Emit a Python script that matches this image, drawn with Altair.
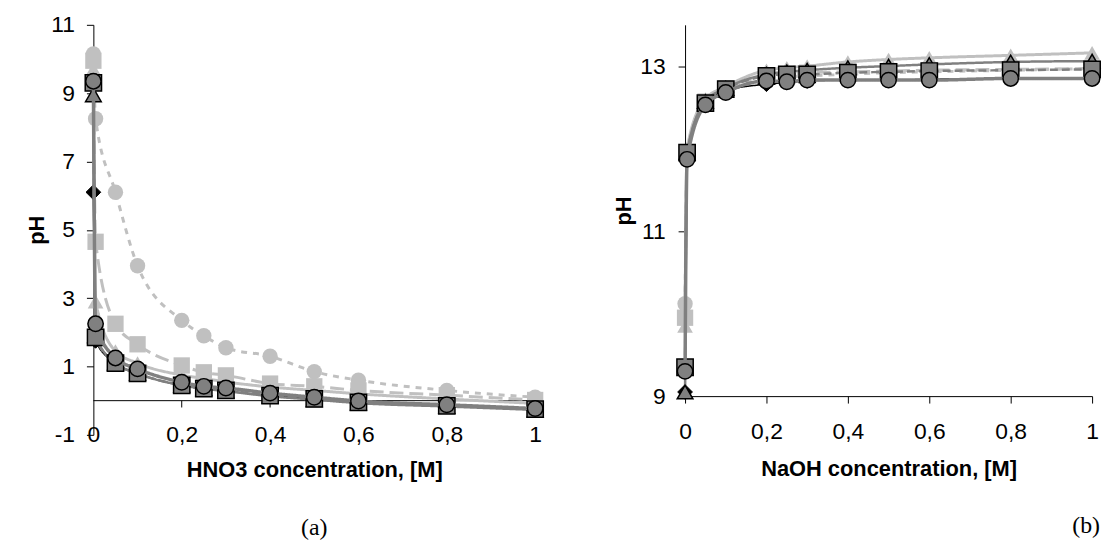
import altair as alt
import pandas as pd

# ---------------- data ----------------
x_vals = [0, 0.005, 0.05, 0.1, 0.2, 0.25, 0.3, 0.4, 0.5, 0.6, 0.8, 1.0]
series = ["S1", "S2", "S3", "S4", "S5", "S6", "S7"]

# (a) HNO3
a_S1 = [6.1, 1.75, 1.1, 0.8, 0.45, 0.35, 0.28, 0.15, 0.05, -0.05, -0.15, -0.25]
a_S2 = [9.3, 1.85, 1.1, 0.8, 0.45, 0.35, 0.3, 0.15, 0.05, -0.05, -0.15, -0.25]
a_S3 = [8.95, 1.9, 1.1, 0.8, 0.45, 0.35, 0.28, 0.13, 0.03, -0.07, -0.17, -0.27]
a_S4 = [10.15, 8.25, 6.1, 3.95, 2.35, 1.9, 1.55, 1.3, 0.85, 0.6, 0.3, 0.1]
a_S5 = [9.95, 4.65, 2.25, 1.65, 1.03, 0.83, 0.74, 0.5, 0.42, 0.3, 0.16, 0.02]
a_S6 = [9.7, 2.9, 1.45, 1.1, 0.75, 0.65, 0.55, 0.4, 0.3, 0.2, 0.05, -0.08]
a_S7 = [9.35, 2.25, 1.25, 0.93, 0.54, 0.42, 0.37, 0.22, 0.1, -0.01, -0.12, -0.23]

# (b) NaOH
b_S1 = [9.05, 11.9, 12.55, 12.7, 12.78, 12.8, 12.82, 12.83, 12.83, 12.84, 12.85, 12.86]
b_S2 = [9.35, 11.95, 12.55, 12.72, 12.88, 12.9, 12.9, 12.92, 12.93, 12.94, 12.95, 12.96]
b_S3 = [9.05, 11.95, 12.57, 12.73, 12.9, 12.93, 12.95, 12.98, 13.0, 13.02, 13.05, 13.06]
b_S4 = [10.12, 11.9, 12.55, 12.72, 12.85, 12.87, 12.88, 12.9, 12.92, 12.93, 12.95, 12.97]
b_S5 = [9.95, 11.95, 12.57, 12.73, 12.88, 12.9, 12.92, 12.93, 12.94, 12.95, 12.96, 12.97]
b_S6 = [9.85, 12.0, 12.6, 12.75, 12.95, 12.98, 13.0, 13.05, 13.08, 13.1, 13.13, 13.16]
b_S7 = [9.3, 11.87, 12.53, 12.68, 12.82, 12.81, 12.83, 12.83, 12.83, 12.83, 12.85, 12.85]

a_data = dict(S1=a_S1, S2=a_S2, S3=a_S3, S4=a_S4, S5=a_S5, S6=a_S6, S7=a_S7)
b_data = dict(S1=b_S1, S2=b_S2, S3=b_S3, S4=b_S4, S5=b_S5, S6=b_S6, S7=b_S7)

a_yticks = [-1, 1, 3, 5, 7, 9, 11]
b_yticks = [9, 11, 13]
x_ticks = [0, 0.2, 0.4, 0.6, 0.8, 1.0]
a_xtitle = "HNO3 concentration, [M]"
b_xtitle = "NaOH concentration, [M]"
y_title = "pH"

# ---------------- styles ----------------
DARK = "#808080"
LIGHT = "#C0C0C0"
style = {
    "S1": dict(lc="black", lw=1.5, dash=[1, 0], shape="diamond", fill="black", stroke="black", sw=1, size=220),
    "S2": dict(lc=DARK, lw=2.5, dash=[8, 4], shape="square", fill=DARK, stroke="black", sw=1.5, size=270),
    "S3": dict(lc=DARK, lw=2.5, dash=[1, 0], shape="triangle-up", fill=DARK, stroke="black", sw=1.5, size=250),
    "S4": dict(lc=LIGHT, lw=3, dash=[6, 6], shape="circle", fill=LIGHT, stroke=LIGHT, sw=0, size=240),
    "S5": dict(lc=LIGHT, lw=3, dash=[14, 6], shape="square", fill=LIGHT, stroke=LIGHT, sw=0, size=270),
    "S6": dict(lc=LIGHT, lw=3, dash=[1, 0], shape="triangle-up", fill=LIGHT, stroke=LIGHT, sw=0, size=250),
    "S7": dict(lc=DARK, lw=3.5, dash=[1, 0], shape="circle", fill=DARK, stroke="black", sw=1.5, size=240),
}
draw_order = ["S4", "S5", "S6", "S1", "S3", "S2", "S7"]

FONT = "Liberation Sans"
SERIF = "Liberation Serif"
LBL = 23
TTL = 22


def panel(data, xscale, yscale, xaxis, yaxis, extra=None):
    layers = list(extra or [])
    for s in draw_order:
        st = style[s]
        df = pd.DataFrame({"x": x_vals, "pH": data[s]})
        base = alt.Chart(df)
        line = base.mark_line(
            color=st["lc"], strokeWidth=st["lw"], strokeDash=st["dash"], interpolate="monotone"
        ).encode(
            x=alt.X("x:Q", scale=xscale, axis=xaxis),
            y=alt.Y("pH:Q", scale=yscale, axis=yaxis),
        )
        pts = base.mark_point(
            filled=True, shape=st["shape"], size=st["size"], fill=st["fill"],
            stroke=st["stroke"], strokeWidth=st["sw"], opacity=1,
        ).encode(x=alt.X("x:Q", scale=xscale), y=alt.Y("pH:Q", scale=yscale))
        layers += [line, pts]
    return alt.layer(*layers)


x_label_expr = "datum.value == 0 ? '0' : datum.value == 1 ? '1' : replace(format(datum.value, '.1f'), '.', ',')"
y_label_expr = "datum.value < 0 ? '-' + abs(datum.value) : '' + datum.value"

# ----- panel (a) -----
a_xscale = alt.Scale(domain=[0, 1], nice=False, zero=False)
a_yscale = alt.Scale(domain=[-1, 11], nice=False, zero=False)
a_xaxis = alt.Axis(
    values=x_ticks, labelExpr=x_label_expr, domain=False, ticks=False, grid=False,
    labelBaseline="middle", labelPadding=0, labelFlush=False, labelOverlap=False,
    labelFont=FONT, labelFontSize=LBL, labelColor="black",
    title=a_xtitle, titleFont=FONT, titleFontSize=TTL, titleFontWeight="bold",
    titleColor="black", titlePadding=13,
)
a_yaxis = alt.Axis(
    values=a_yticks, labelExpr=y_label_expr, tickSize=7, labelPadding=12, grid=False,
    domainColor="black", tickColor="black", labelFont=FONT, labelFontSize=LBL,
    labelColor="black", title=y_title, titleFont=FONT, titleFontSize=TTL,
    titleFontWeight="bold", titleColor="black", titlePadding=2,
)
zero_df = pd.DataFrame({"x": [0], "x2": [1], "y": [0]})
zero_line = alt.Chart(zero_df).mark_rule(color="black", strokeWidth=1).encode(
    x=alt.X("x:Q", scale=a_xscale), x2="x2:Q", y=alt.Y("y:Q", scale=a_yscale)
)
tick_df = pd.DataFrame({"x": x_ticks[1:], "y": [0] * 5, "y2": [-0.2] * 5})
zero_ticks = alt.Chart(tick_df).mark_rule(color="black", strokeWidth=1).encode(
    x=alt.X("x:Q", scale=a_xscale), y=alt.Y("y:Q", scale=a_yscale), y2="y2:Q"
)
chart_a = panel(a_data, a_xscale, a_yscale, a_xaxis, a_yaxis, extra=[zero_line, zero_ticks]).properties(
    width=445, height=413,
    title=alt.TitleParams("(a)", orient="bottom", anchor="middle", font=SERIF, fontSize=24,
                          fontWeight="normal", color="black", offset=36),
)

# ----- panel (b) -----
b_xscale = alt.Scale(domain=[0, 1], nice=False, zero=False)
b_yscale = alt.Scale(domain=[9, 13.5], nice=False, zero=False)
b_xaxis = alt.Axis(
    values=x_ticks, labelExpr=x_label_expr, tickSize=7, labelPadding=18, grid=False,
    labelFlush=False, labelOverlap=False, domainColor="black", tickColor="black",
    labelFont=FONT, labelFontSize=LBL, labelColor="black",
    title=b_xtitle, titleFont=FONT, titleFontSize=TTL, titleFontWeight="bold",
    titleColor="black", titlePadding=15,
)
b_yaxis = alt.Axis(
    values=b_yticks, labelExpr=y_label_expr, tickSize=7, labelPadding=13, grid=False,
    domainColor="black", tickColor="black", labelFont=FONT, labelFontSize=LBL,
    labelColor="black", title=y_title, titleFont=FONT, titleFontSize=TTL,
    titleFontWeight="bold", titleColor="black", titlePadding=4,
)
chart_b = panel(b_data, b_xscale, b_yscale, b_xaxis, b_yaxis).properties(
    width=410, height=374,
    title=alt.TitleParams("(b)", orient="bottom", anchor="middle", font=SERIF, fontSize=24,
                          fontWeight="normal", color="black", offset=35, dx=199),
)

chart = alt.hconcat(chart_a, chart_b, spacing=66).properties(
    padding={"left": 18, "top": 4, "right": 0, "bottom": 0}
).configure_view(stroke=None).configure_concat(spacing=66)

chart.save("out.html", embed_options={"renderer": "svg", "actions": False})
